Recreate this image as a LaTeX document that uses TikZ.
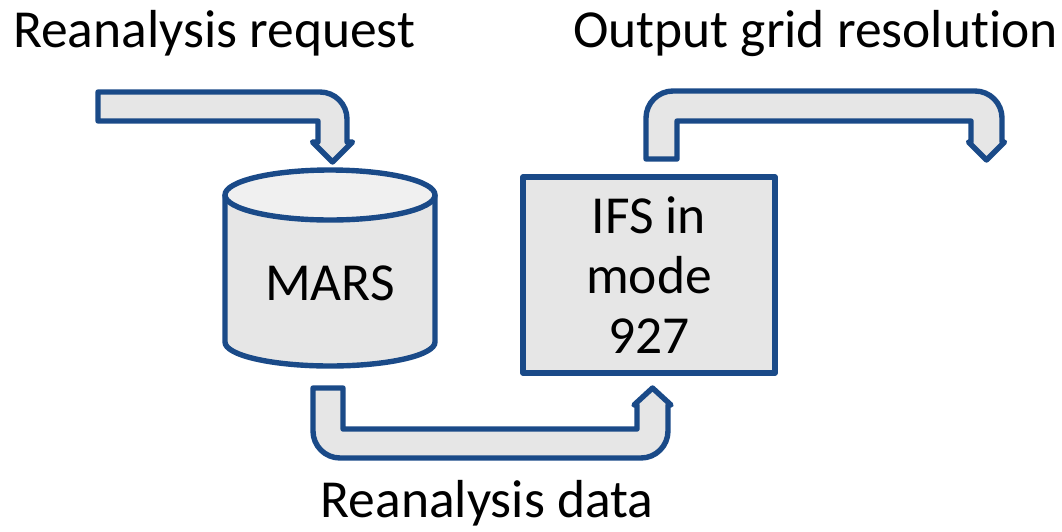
\documentclass[tikz,border=0pt]{standalone}
\usepackage{fontspec}
\setmainfont[Ligatures=NoCommon]{Carlito}
\definecolor{bord}{HTML}{1A4A88}
\definecolor{fillg}{HTML}{E6E6E6}
\definecolor{filltop}{HTML}{F0F0F0}
\begin{document}
\begin{tikzpicture}[x=1pt,y=-1pt,
  blockarrow/.style={draw=bord,fill=fillg,line width=5.4pt,line join=round},
  lbl/.style={inner sep=0pt,font=\fontsize{53.5}{60}\selectfont},
  procbox/.style={draw=bord,fill=fillg,line width=5.4pt,line join=round,
    minimum width=252pt,minimum height=196pt,inner sep=0pt,align=center,
    font=\fontsize{53.5}{60}\selectfont}]
\useasboundingbox (0,0) rectangle (1062,531);
% labels
\node[lbl,anchor=base west] (lreq) at (13,47) {Reanalysis request};
\node[lbl,anchor=base east] (lout) at (1058,47) {Output grid resolution};
\node[lbl,anchor=base] (ldata) at (487,517) {Reanalysis data};
% arrow 1
\draw[blockarrow] (98,92) -- (320,92) arc[start angle=270,end angle=360,radius=27]
  -- (347,142) -- (352.5,142) -- (332.5,162) -- (312.5,142) -- (318,142)
  -- (318,121) -- (98,121) -- cycle;
% arrow 2
\draw[blockarrow] (646,159) -- (646,118) arc[start angle=180,end angle=270,radius=27]
  -- (975,91) arc[start angle=270,end angle=360,radius=27]
  -- (1002,142) -- (1004.5,142) -- (986.5,160) -- (968.5,142) -- (971,142)
  -- (971,121) -- (677,121) -- (677,159) -- cycle;
% arrow 3
\draw[blockarrow] (313,388) -- (313,431) arc[start angle=180,end angle=90,radius=27]
  -- (641,458) arc[start angle=90,end angle=0,radius=27]
  -- (668,405) -- (671,405) -- (652.5,388) -- (634,405) -- (637,405)
  -- (637,429) -- (343,429) -- (343,388) -- cycle;
% MARS cylinder
\fill[fillg] (225,195) -- (225,342) arc[start angle=180,end angle=0,x radius=105,y radius=24] -- (435,195) -- cycle;
\draw[draw=bord,line width=5.4pt] (225,195) -- (225,342) arc[start angle=180,end angle=0,x radius=105,y radius=24] -- (435,195);
\draw[draw=bord,fill=filltop,line width=5.4pt] (330,195) ellipse[x radius=105,y radius=25];
\node[lbl,anchor=base] (mars) at (330,300) {MARS};
% IFS box
\node[procbox] (ifs) at (649,275) {IFS in\\mode\\927};
\end{tikzpicture}
\end{document}
